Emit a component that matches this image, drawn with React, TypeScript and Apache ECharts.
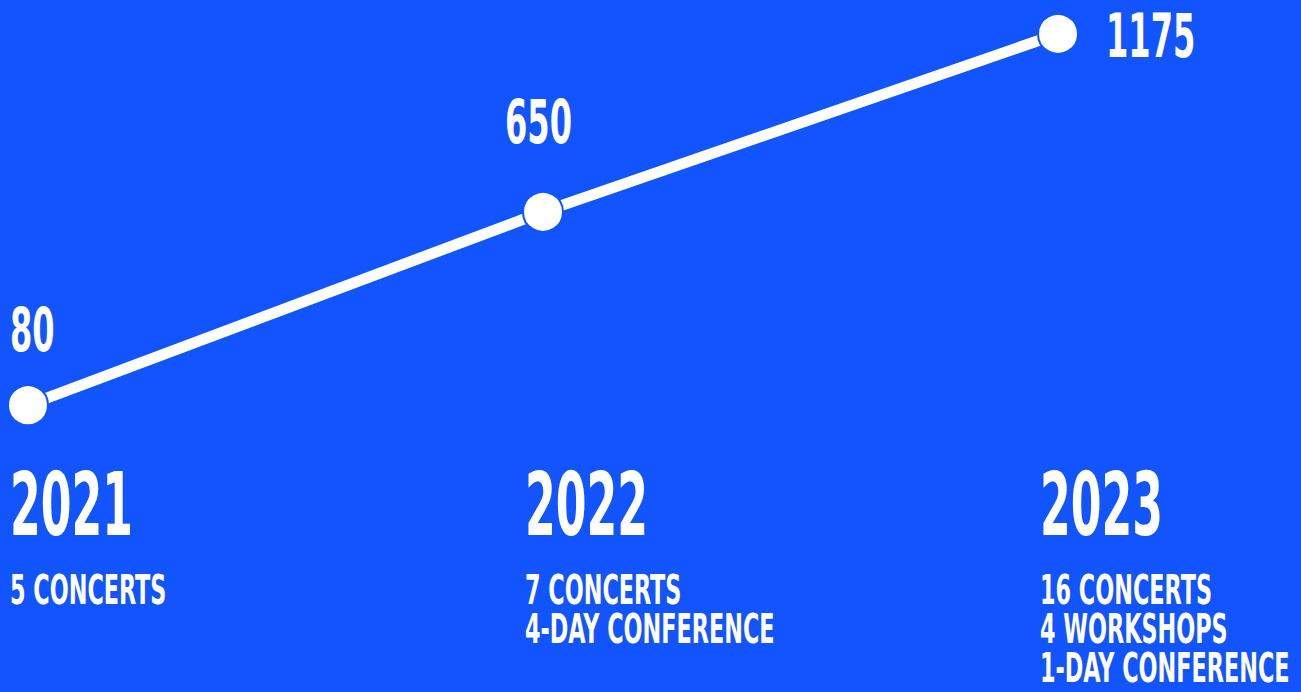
import React, { useEffect, useRef } from 'react';
import * as echarts from 'echarts';

// ---- data ----
const years = ['2021', '2022', '2023'];
const attendance = [80, 650, 1175];
const descriptions = [
  ['5 CONCERTS'],
  ['7 CONCERTS', '4-DAY CONFERENCE'],
  ['16 CONCERTS', '4 WORKSHOPS', '1-DAY CONFERENCE'],
];

// ---- style / layout ----
const BG = '#1254FE';
const FONT = "'Liberation Sans Narrow', 'DejaVu Sans Condensed', 'Roboto Condensed', Roboto, sans-serif";
const valueLabelOffsets = [
  [-18, -75],
  [-38, -90],
  [48, 2],
];

function measure(text: string, size: number): number {
  const ctx = document.createElement('canvas').getContext('2d');
  if (!ctx) return text.length * size * 0.5;
  ctx.font = `bold ${size}px ${FONT}`;
  return ctx.measureText(text).width || text.length * size * 0.5;
}

export default function App() {
  const ref = useRef<HTMLDivElement>(null);

  useEffect(() => {
    if (!ref.current) return;
    const chart = echarts.init(ref.current, null, { renderer: 'svg' });
    chart.setOption({
      animation: false,
      backgroundColor: BG,
      grid: { left: 28, right: 243, top: 25.4, bottom: 259.7, containLabel: false },
      xAxis: { type: 'category', data: years, boundaryGap: false, show: false },
      yAxis: { type: 'value', min: 0, max: 1200, show: false },
      series: [
        {
          type: 'line',
          data: attendance,
          symbol: 'circle',
          symbolSize: 40,
          lineStyle: { color: '#ffffff', width: 11 },
          itemStyle: { color: '#ffffff', borderColor: BG, borderWidth: 2 },
          label: { show: false },
        },
      ],
    });

    const bigSize = 87;
    const valSize = 60;
    const descSize = 41;
    const sBig = 123 / measure('2021', bigSize);
    const sVal = 67 / measure('650', valSize);
    const sDesc = 250 / measure('4-DAY CONFERENCE', descSize);

    const graphics: any[] = [];
    years.forEach((yr, i) => {
      const p = chart.convertToPixel({ seriesIndex: 0 }, [i, attendance[i]]) as number[];
      const px = p[0];
      const py = p[1];
      const off = valueLabelOffsets[i];
      graphics.push({
        type: 'text',
        x: px + off[0],
        y: py + off[1],
        scaleX: sVal,
        style: {
          text: String(attendance[i]),
          fill: '#ffffff',
          font: `bold ${valSize}px ${FONT}`,
          align: 'left',
          verticalAlign: 'middle',
        },
      });
      graphics.push({
        type: 'text',
        x: px - 18,
        y: 505,
        scaleX: sBig,
        style: {
          text: yr,
          fill: '#ffffff',
          font: `bold ${bigSize}px ${FONT}`,
          align: 'left',
          verticalAlign: 'middle',
        },
      });
      descriptions[i].forEach((line, j) => {
        graphics.push({
          type: 'text',
          x: px - 18,
          y: 590 + j * 39,
          scaleX: sDesc,
          style: {
            text: line,
            fill: '#ffffff',
            font: `bold ${descSize}px ${FONT}`,
            align: 'left',
            verticalAlign: 'middle',
          },
        });
      });
    });
    chart.setOption({ graphic: graphics });

    return () => {
      chart.dispose();
    };
  }, []);

  return (
    <div
      ref={ref}
      style={{ position: 'fixed', left: 0, top: 0, width: 1301, height: 692 }}
    />
  );
}
